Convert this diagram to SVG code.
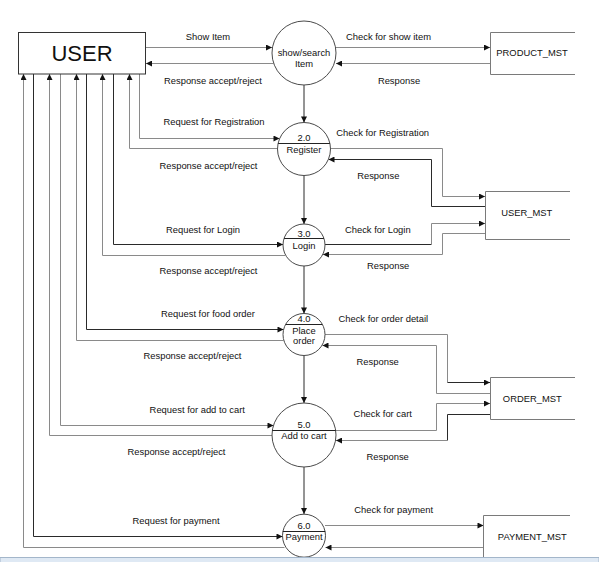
<svg xmlns="http://www.w3.org/2000/svg" width="599" height="562" viewBox="0 0 599 562">
<style>
text{font-family:"Liberation Sans",Arial,sans-serif;font-size:9.4px;fill:#111;text-anchor:middle}
.big{font-size:22px}
.c{fill:#fff;stroke:#4a4a4a;stroke-width:1}
.store{fill:none;stroke:#7a7a7a;stroke-width:1}
.dv{stroke:#222;stroke-width:1}
.g{fill:none;stroke:#8a8a8a;stroke-width:1}
.k{fill:none;stroke:#2a2a2a;stroke-width:1}
.a{marker-end:url(#ah)}
</style>
<defs>
<marker id="ah" viewBox="0 0 8 8" refX="8" refY="4" markerWidth="7" markerHeight="6" markerUnits="userSpaceOnUse" orient="auto">
<path d="M0,0 L8,4 L0,8 Z" fill="#111"/>
</marker>
</defs>
<rect width="599" height="562" fill="#fff"/>

<g id="connectors">
<path class="g a" d="M146,47.5 H272"/>
<path class="g a" d="M273.5,63.5 H146"/>
<path class="g a" d="M335.5,47.5 H490"/>
<path class="g a" d="M490,63.5 H336"/>
<path class="k a" d="M304,85 V122.5"/>
<path class="k a" d="M304,175.5 V224"/>
<path class="k a" d="M304,266 V313.5"/>
<path class="k a" d="M304,355.5 V403"/>
<path class="k a" d="M304,467 V514"/>
<path class="g a" d="M139.5,74 V138.5 H279.5"/>
<path class="g a" d="M277.5,148.5 H129.5 V74"/>
<path class="g a" d="M330.5,148.5 H442.5 V196.5 H485"/>
<path class="k a" d="M485,206.5 H431.5 V159.5 H328.5"/>
<path class="k a" d="M113.5,74 V244.5 H283"/>
<path class="g a" d="M285,255.5 H102.5 V74"/>
<path class="k" d="M325,244.5 H431.5"/>
<path class="g a" d="M431.5,244.5 V223.5 H485"/>
<path class="g a" d="M485,233.5 H442.5 V254.5 H323"/>
<path class="k a" d="M86.5,74 V329.5 H283.5"/>
<path class="g a" d="M283.5,340.5 H76.5 V74"/>
<path class="g" d="M325,334.5 H447.5 V382.5"/>
<path class="k a" d="M447.5,382.5 H490"/>
<path class="g a" d="M490,393.5 H436.5 V345.5 H322.5"/>
<path class="g a" d="M60.5,74 V425.5 H273.5"/>
<path class="g a" d="M272,435.5 H49.5 V74"/>
<path class="g a" d="M335.5,430.5 H436.5 V403.5 H490"/>
<path class="k" d="M490,414.5 H447.5 V440.5"/>
<path class="g a" d="M447.5,440.5 H336"/>
<path class="k a" d="M33.5,74 V536.5 H282.5"/>
<path class="g a" d="M284.5,547.5 H23.5 V74"/>
<path class="g a" d="M325,525.5 H483.5"/>
<path class="g a" d="M483.5,547.5 H325.5"/>
</g>

<g id="labels">
<text x="208" y="40">Show Item</text>
<text x="213" y="83.5">Response accept/reject</text>
<text x="388.5" y="40">Check for show item</text>
<text x="399" y="83.5">Response</text>
<text x="214" y="125">Request for Registration</text>
<text x="208.5" y="168.5">Response accept/reject</text>
<text x="382.7" y="136">Check for Registration</text>
<text x="378.3" y="179">Response</text>
<text x="203" y="232.5">Request for Login</text>
<text x="208.5" y="274">Response accept/reject</text>
<text x="377.8" y="232.5">Check for Login</text>
<text x="388.2" y="269">Response</text>
<text x="208" y="317">Request for food order</text>
<text x="192.5" y="359">Response accept/reject</text>
<text x="383.3" y="321.7">Check for order detail</text>
<text x="377.7" y="364.5">Response</text>
<text x="197.3" y="412.5">Request for add to cart</text>
<text x="176.5" y="455">Response accept/reject</text>
<text x="382.8" y="416.7">Check for cart</text>
<text x="387.7" y="460">Response</text>
<text x="176" y="524">Request for payment</text>
<text x="393.7" y="512.7">Check for payment</text>
</g>

<g id="user">
<rect x="18.5" y="32.5" width="127" height="41.5" fill="#fff" stroke="#333"/>
<text class="big" x="82" y="61">USER</text>
</g>

<g id="p1">
<circle class="c" cx="304" cy="53" r="32"/>
<text x="304" y="56">show/search</text>
<text x="304" y="66.5">Item</text>
</g>

<g id="p2">
<circle class="c" cx="304" cy="149" r="26.5"/>
<line class="dv" x1="278.1" y1="143.5" x2="329.9" y2="143.5"/>
<text x="304" y="140.5">2.0</text>
<text x="304" y="152.5">Register</text>
</g>

<g id="p3">
<circle class="c" cx="304" cy="245" r="21"/>
<line class="dv" x1="284.1" y1="238.5" x2="323.9" y2="238.5" stroke="#888"/>
<text x="304" y="236.5">3.0</text>
<text x="304" y="248.5">Login</text>
</g>

<g id="p4">
<circle class="c" cx="304" cy="334.5" r="21"/>
<line class="dv" x1="285.8" y1="324.5" x2="322.2" y2="324.5" stroke="#888"/>
<text x="304" y="321.7">4.0</text>
<text x="304" y="333.5">Place</text>
<text x="304" y="343.5">order</text>
</g>

<g id="p5">
<circle class="c" cx="304" cy="435" r="32"/>
<line class="dv" x1="272.3" y1="430.5" x2="335.7" y2="430.5"/>
<text x="304" y="427.5">5.0</text>
<text x="304" y="439">Add to cart</text>
</g>

<g id="p6">
<circle class="c" cx="304" cy="535.7" r="21.5"/>
<line class="dv" x1="282.8" y1="531.5" x2="325.2" y2="531.5"/>
<text x="304" y="528.5">6.0</text>
<text x="304" y="540">Payment</text>
</g>

<g id="product_mst">
<path class="store" d="M575,32.5 H490.5 V74.5 H575"/>
<text x="532" y="56">PRODUCT_MST</text>
</g>

<g id="user_mst">
<path class="store" d="M570,191.5 H485.5 V239.5 H570"/>
<text x="526.7" y="216">USER_MST</text>
</g>

<g id="order_mst">
<path class="store" d="M575,377.5 H490.5 V419.5 H575"/>
<text x="532.3" y="401.7">ORDER_MST</text>
</g>

<g id="payment_mst">
<path class="store" d="M570,515.5 H483.5 V562"/>
<text x="532.3" y="540">PAYMENT_MST</text>
</g>

<rect x="0" y="557.5" width="599" height="5" fill="#dfe9f4" stroke="#a3b6ca" stroke-width="1"/>
</svg>
